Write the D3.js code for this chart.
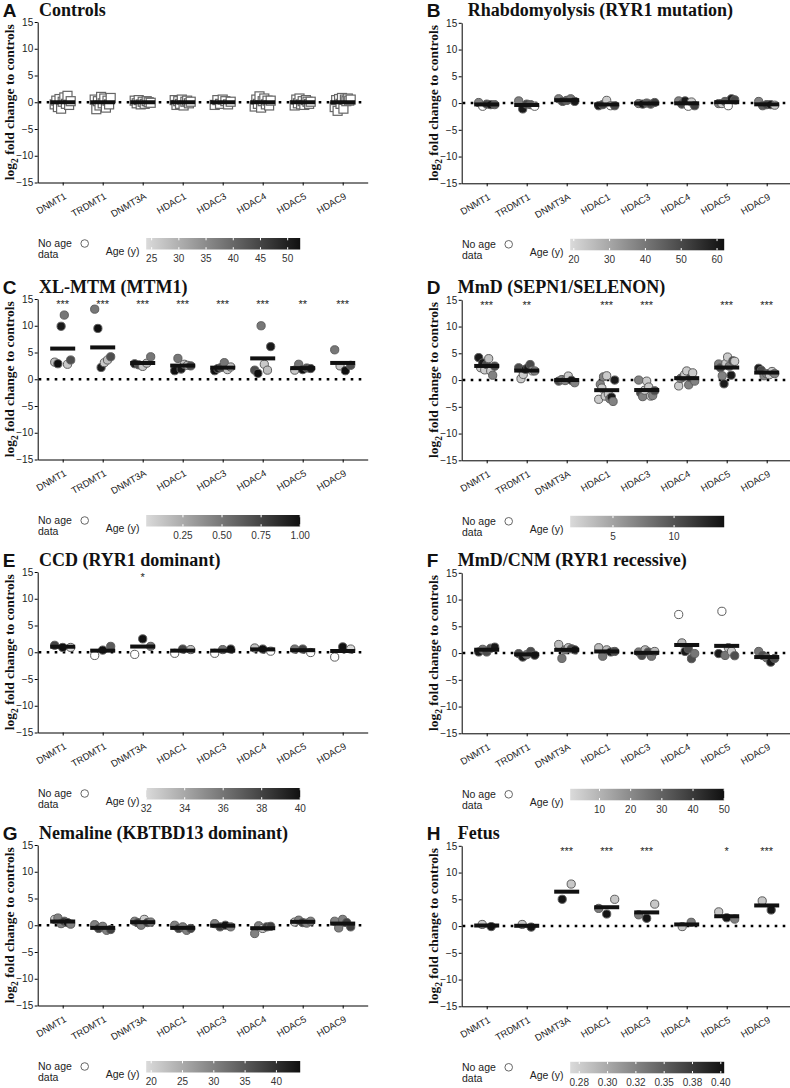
<!DOCTYPE html>
<html><head><meta charset="utf-8">
<script src="https://cdn.jsdelivr.net/npm/d3@7"></script>
<style>
body{margin:0;background:#fff} svg{display:block}
.serif{font-family:"Liberation Serif","Tinos","Times New Roman",Times,serif;font-weight:bold}
.sans{font-family:"Liberation Sans","Arimo",Arial,Helvetica,sans-serif}
</style>
</head><body>
<svg id="chart" width="790" height="1088"></svg>
<script>
const genes = ["DNMT1","TRDMT1","DNMT3A","HDAC1","HDAC3","HDAC4","HDAC5","HDAC9"];
const panelLetters = ["A","B","C","D","E","F","G","H"];
const panelTitles = ["Controls","Rhabdomyolysis (RYR1 mutation)","XL-MTM (MTM1)","MmD (SEPN1/SELENON)",
  "CCD (RYR1 dominant)","MmD/CNM (RYR1 recessive)","Nemaline (KBTBD13 dominant)","Fetus"];
const yTicks = [15,10,5,0,-5,-10,-15];

// A: Controls (open squares)
const controlsValues = [
  [-0.4,0.3,-0.9,0.6,-1.2,0.1,0.9,-0.3,1.2,-0.5,0.2],
  [0.5,-1.3,0.2,-0.6,1.0,-0.2,0.7,-1.0,0.3,-0.4,0.8],
  [0.3,-0.2,0.4,-0.4,0.1,-0.3,0.2,0.0,-0.1],
  [0.4,-0.5,0.2,-0.3,0.5,-0.6,0.1,0.3,-0.2,0.1],
  [-0.5,0.4,-0.3,0.5,0.2,-0.4,0.1],
  [-0.8,0.5,-0.3,1.1,-1.0,0.2,0.7,-0.4,0.3,-0.6,0.3],
  [-0.6,0.5,-0.2,0.7,-0.4,0.2,-0.5,0.4,0.1,-0.3,0.1],
  [-0.9,0.4,-1.6,0.6,-0.3,0.8,-1.2,0.5,0.2,0.7,0.3,0.5]
];
const controlsStars = ["","","","","","","",""];

// B: Rhabdomyolysis
const rhabdoValues = [
  [0.1,-0.6,-0.2,-0.3,-0.3],
  [0.4,-1.1,-0.2,-0.3,-0.6],
  [0.8,0.3,0.5,0.8,0.3],
  [-0.5,-0.3,0.5,-0.5,-0.5],
  [-0.1,-0.2,0.0,-0.2,0.1],
  [0.4,-0.2,0.4,-0.6,0.2,-0.5],
  [-0.1,-0.1,0.3,-0.5,0.8,0.6],
  [0.3,-0.5,-0.3,-0.3,-0.4]
];
const rhabdoAges = [
  [38,null,50,60,45],
  [38,60,50,45,null],
  [38,50,45,40,60],
  [60,50,22,null,50],
  [38,60,45,50,52],
  [38,50,60,null,22,52],
  [38,22,45,null,60,50],
  [38,45,50,60,22]
];
const rhabdoStars = ["","","","","","","",""];

// C: XL-MTM
const xlmtmValues = [
  [3.2,2.9,9.9,12.0,2.8,3.6],
  [13.1,9.5,2.2,3.1,3.6,4.2],
  [2.9,2.7,2.4,3.0,4.2],
  [1.6,3.9,1.9,2.8,2.6,2.5],
  [1.6,2.0,2.2,3.1,1.8,2.3],
  [1.7,1.1,10.0,2.8,1.7,6.1],
  [1.7,2.8,1.8,2.1,2.0],
  [5.5,2.5,1.6,2.6]
];
const xlmtmAges = [
  [0.15,1.0,0.95,0.5,0.1,0.7],
  [0.5,1.0,0.95,0.1,0.15,0.7],
  [0.95,0.7,0.1,0.15,0.5],
  [1.0,0.5,0.95,0.1,0.15,0.7],
  [1.0,0.95,0.7,0.5,0.1,0.15],
  [0.7,1.0,0.5,0.1,0.15,0.95],
  [0.1,0.5,1.0,0.7,0.95],
  [0.5,0.1,1.0,0.7]
];
const xlmtmStars = ["***","***","***","***","***","***","**","***"];

// D: MmD (SEPN1/SELENON)
const sepn1Values = [
  [4.2,2.3,3.2,1.9,2.9,4.0,1.7,0.9,2.6],
  [2.3,0.25,1.05,2.0,2.3,2.9,1.7,1.7],
  [-0.2,0.1,-0.1,0.75,-0.05,-0.5],
  [-3.6,-0.8,-1.5,0.6,-3.0,0.8,-2.6,-3.5,-3.2,-4.0,0.0],
  [0.0,-2.4,-3.1,-1.9,-0.2,-1.3,-3.0,-2.9,-2.0],
  [-1.1,0.3,0.55,1.05,1.7,-0.9,0.45,1.35,-0.2],
  [3.0,2.3,0.8,-0.7,3.1,4.3,2.6,0.9,3.6,3.5],
  [2.2,1.8,0.8,1.2,1.0,1.6,1.2]
];
const sepn1Ages = [
  [13.5,2.5,13.5,2.5,10.5,3,2.5,7,10.5],
  [10.5,2.5,2.5,13.5,13.5,10.5,2.5,7],
  [10.5,7,7,2.5,13.5,7],
  [2.5,7,2.5,7,2.5,2.5,2.5,7,13.5,7,13.5],
  [7,10.5,7,2.5,2.5,2.5,2.5,7,10.5],
  [2.5,7,10.5,2.5,2.5,7,10.5,2.5,7],
  [7,10.5,7,13.5,2.5,2.5,7,13.5,10.5,2.5],
  [13.5,10.5,7,7,2.5,2.5,7]
];
const sepn1Stars = ["***","**","","***","***","","***","***"];

// E: CCD (RYR1 dominant)
const ccdValues = [
  [1.3,0.9,0.9],
  [-0.6,0.4,1.1],
  [-0.4,2.5,1.1],
  [-0.2,0.6,0.5],
  [-0.2,0.5,0.6],
  [0.8,0.6,0.2],
  [0.6,0.6,-0.05],
  [-0.9,1.0,0.6]
];
const ccdAges = [
  [38,40,32],
  [null,40,37],
  [null,40,36],
  [null,38,33],
  [null,36,40],
  [33,40,null],
  [36,38,null],
  [null,40,32]
];
const ccdStars = ["","","*","","","","",""];

// F: MmD/CNM (RYR1 recessive)
const ryr1recValues = [
  [0.2,0.7,0.2,0.9,1.1],
  [-0.1,-0.75,-0.3,0.3,-0.4],
  [1.6,-1.0,0.6,1.0,0.8,0.6],
  [1.0,-0.6,0.6,0.2,0.3],
  [0.2,-0.45,0.6,0.2,-0.6,0.3],
  [7.2,1.9,0.3,0.8,-1.05,-0.1],
  [-0.1,7.8,-0.45,1.0,0.3,-0.5],
  [0.3,-0.45,-0.9,-1.7,-1.0]
];
const ryr1recAges = [
  [48,25,35,35,48],
  [35,48,25,35,48],
  [8,25,25,8,35,48],
  [8,25,8,48,35],
  [25,35,8,35,25,8],
  [null,8,48,35,35,25],
  [48,null,25,8,5,35],
  [25,35,25,48,35]
];
const ryr1recStars = ["","","","","","","",""];

// G: Nemaline (KBTBD13 dominant)
const nemalineValues = [
  [1.1,1.35,0.3,0.75,0.5,0.2],
  [0.1,-0.6,-0.2,-0.95,-0.8],
  [0.75,0.5,0.0,1.1,0.5,0.6],
  [0.0,-0.6,-0.3,-0.95,-0.6],
  [0.3,-0.3,0.0,-0.3],
  [-1.55,-0.1,-0.6,-0.3,-0.2],
  [0.6,0.95,0.5,0.4,0.75],
  [0.75,-0.5,1.1,0.5,-0.3]
];
const nemalineAges = [
  [21,30,30,38,43,30],
  [30,38,30,30,38],
  [30,38,30,21,38,30],
  [30,38,30,30,38],
  [30,38,43,30],
  [30,30,21,38,38],
  [21,30,38,30,30],
  [30,30,30,38,38]
];
const nemalineStars = ["","","","","","","",""];

// H: Fetus
const fetusValues = [
  [0.3,-0.1],
  [0.3,-0.2],
  [5.0,7.85],
  [3.3,2.25,5.0],
  [2.1,1.45,4.1],
  [-0.1,0.7],
  [2.65,1.55,1.3],
  [4.7,3.0]
];
const fetusAges = [
  [0.28,0.40],
  [0.28,0.40],
  [0.40,0.28],
  [0.33,0.40,0.28],
  [0.33,0.40,0.28],
  [0.28,0.33],
  [0.28,0.40,0.33],
  [0.28,0.40]
];
const fetusStars = ["","","***","***","***","","*","***"];

// Colour bar (age) scales
const ageDomains = [[24,52.3],[19,62],[0.015,1.0],[1.5,14.1],[32,40],[0.6,50],[19.2,43.8],[0.267,0.403]];
const ageTicks = [[25,30,35,40,45,50],[20,30,40,50,60],[0.25,0.5,0.75,1.0],[5,10],[32,34,36,38,40],
  [10,20,30,40,50],[20,25,30,35,40],[0.275,0.3,0.325,0.35,0.375,0.4]];
const ageTickLabels = [["25","30","35","40","45","50"],["20","30","40","50","60"],["0.25","0.50","0.75","1.00"],
  ["5","10"],["32","34","36","38","40"],["10","20","30","40","50"],["20","25","30","35","40"],
  ["0.28","0.30","0.32","0.35","0.38","0.40"]];

const panelValues = [controlsValues, rhabdoValues, xlmtmValues, sepn1Values, ccdValues, ryr1recValues, nemalineValues, fetusValues];
const panelAges = [null, rhabdoAges, xlmtmAges, sepn1Ages, ccdAges, ryr1recAges, nemalineAges, fetusAges];
const panelStars = [controlsStars, rhabdoStars, xlmtmStars, sepn1Stars, ccdStars, ryr1recStars, nemalineStars, fetusStars];

// ---------- layout ----------
const svg = d3.select("#chart");
const colX = [37.7, 461.7];
const rowTop = [22, 299, 572, 845];
const plotW = 330, plotH = 160.5;
const greyRamp = d3.interpolateRgb("#dadada", "#101010");
const titleDx = [1.3, 6, 1.3, -4, 1.3, -4, 1.3, -4];

const defs = svg.append("defs");

panelLetters.forEach((letter, k) => {
  const col = k % 2, row = Math.floor(k / 2);
  const ox = colX[col], oy = rowTop[row] + col * 0.8;
  const g = svg.append("g").attr("transform", `translate(${ox},${oy})`);
  const x = d3.scalePoint().domain(genes).range([0, plotW]).padding(0.625);
  const y = d3.scaleLinear().domain([-15, 15]).range([plotH, 0]);
  const ageT = d3.scaleLinear().domain(ageDomains[k]).range([0, 1]).clamp(true);
  const values = panelValues[k], ages = panelAges[k];

  // letter + title
  svg.append("text").attr("class", "sans").attr("x", ox - 35).attr("y", oy - 5.5)
    .style("font-weight", "bold").style("font-size", "19px")
    .attr("fill", "#111").text(letter);
  svg.append("text").attr("class", "serif").attr("x", ox + titleDx[k]).attr("y", oy - 6.5)
    .style("font-size", "18px").attr("fill", "#111").text(panelTitles[k]);

  // y label
  const yl = svg.append("text").attr("class", "serif")
    .attr("transform", `translate(${ox - 23.5},${oy + plotH / 2}) rotate(-90)`)
    .attr("text-anchor", "middle").style("font-size", "13.5px").attr("fill", "#111");
  yl.append("tspan").text("log");
  yl.append("tspan").style("font-size", "9.5px").attr("dy", 4).text("2");
  yl.append("tspan").attr("dy", -4).text(" fold change to controls");

  // zero dotted line
  g.append("line").attr("x1", 1).attr("x2", 325).attr("y1", y(0)).attr("y2", y(0))
    .attr("stroke", "#000").attr("stroke-width", 2.6).attr("stroke-dasharray", "2.6 5.4");

  // points
  genes.forEach((gene, i) => {
    const vals = values[i];
    const n = vals.length;
    const span = n > 1 ? Math.min(16, (n - 1) * 9) : 0;
    const pts = vals.map((v, j) => ({
      v, a: ages ? ages[i][j] : null,
      dx: n > 1 ? -span / 2 + span * j / (n - 1) : 0
    }));
    const gg = g.append("g");
    if (k === 0) {
      gg.selectAll("rect").data(pts).join("rect")
        .attr("x", d => x(gene) + d.dx - 4.5).attr("y", d => y(d.v) - 4.5)
        .attr("width", 9).attr("height", 9)
        .attr("fill", "#fff").attr("stroke", "#666").attr("stroke-width", 1.2);
    } else {
      gg.selectAll("circle").data(pts).join("circle")
        .attr("cx", d => x(gene) + d.dx).attr("cy", d => y(d.v)).attr("r", 4.1)
        .attr("fill", d => d.a == null ? "#ffffff" : greyRamp(ageT(d.a)))
        .attr("stroke", "#5e5e5e").attr("stroke-width", 1);
    }
  });

  // mean bars
  g.append("g").selectAll("rect").data(genes).join("rect")
    .attr("x", d => x(d) - 12.5).attr("width", 25)
    .attr("y", (d, i) => y(d3.mean(values[i])) - 2).attr("height", 4)
    .attr("fill", "#111");

  // axes
  const ya = g.append("g").call(d3.axisLeft(y).tickValues(yTicks).tickSize(3).tickSizeOuter(0).tickPadding(1.5));
  ya.attr("font-family", null).attr("font-size", null);
  ya.selectAll("text").attr("class", "sans").style("font-size", "10px").attr("fill", "#222");
  const xa = g.append("g").attr("transform", `translate(0,${plotH})`)
    .call(d3.axisBottom(x).tickSize(3).tickSizeOuter(0));
  xa.attr("font-family", null).attr("font-size", null);
  xa.selectAll("text").attr("class", "sans").style("font-size", "9.5px").attr("fill", "#222")
    .attr("y", 0).attr("x", 0).attr("dy", "0.71em")
    .attr("transform", "translate(0.5,9.7) rotate(-30)").style("text-anchor", "end");
  g.selectAll(".domain, .tick line").attr("stroke", "#000");

  // significance stars
  g.append("g").selectAll("text").data(panelStars[k]).join("text").attr("class", "sans")
    .attr("x", (d, i) => x(genes[i])).attr("y", 9)
    .attr("text-anchor", "middle").style("font-size", "11px")
    .attr("fill", "#222").text(d => d);

  // legend
  const lg = svg.append("g").attr("transform", `translate(${ox},${oy + 216})`);
  lg.append("text").attr("class", "sans").attr("x", 0.3).attr("y", 9).style("font-size", "10.5px")
    .attr("fill", "#222").text("No age");
  lg.append("text").attr("class", "sans").attr("x", 0.3).attr("y", 20).style("font-size", "10.5px")
    .attr("fill", "#222").text("data");
  lg.append("circle").attr("cx", 47).attr("cy", 5.5).attr("r", 3.8)
    .attr("fill", "#fff").attr("stroke", "#666").attr("stroke-width", 1);
  lg.append("text").attr("class", "sans").attr("x", 68).attr("y", 17).style("font-size", "10.5px")
    .attr("fill", "#222").text("Age (y)");
  const barX = 108.5, barW = 154, barH = 11.5;
  const gid = "grad" + k;
  const grad = defs.append("linearGradient").attr("id", gid).attr("x1", "0%").attr("x2", "100%");
  d3.range(0, 1.0001, 0.125).forEach(t => grad.append("stop")
    .attr("offset", (t * 100) + "%").attr("stop-color", greyRamp(t)));
  lg.append("rect").attr("x", barX).attr("y", 0).attr("width", barW).attr("height", barH)
    .attr("fill", `url(#${gid})`);
  const bx = d3.scaleLinear().domain(ageDomains[k]).range([barX, barX + barW]);
  ageTicks[k].forEach((t, j) => {
    const px = bx(t);
    lg.append("line").attr("x1", px).attr("x2", px).attr("y1", 0).attr("y2", 2.3)
      .attr("stroke", "#fff").attr("stroke-width", 1);
    lg.append("line").attr("x1", px).attr("x2", px).attr("y1", barH - 2.3).attr("y2", barH)
      .attr("stroke", "#fff").attr("stroke-width", 1);
    lg.append("text").attr("class", "sans").attr("x", px).attr("y", 24).attr("text-anchor", "middle")
      .style("font-size", "10px").attr("fill", "#333").text(ageTickLabels[k][j]);
  });
});
</script>
</body></html>
